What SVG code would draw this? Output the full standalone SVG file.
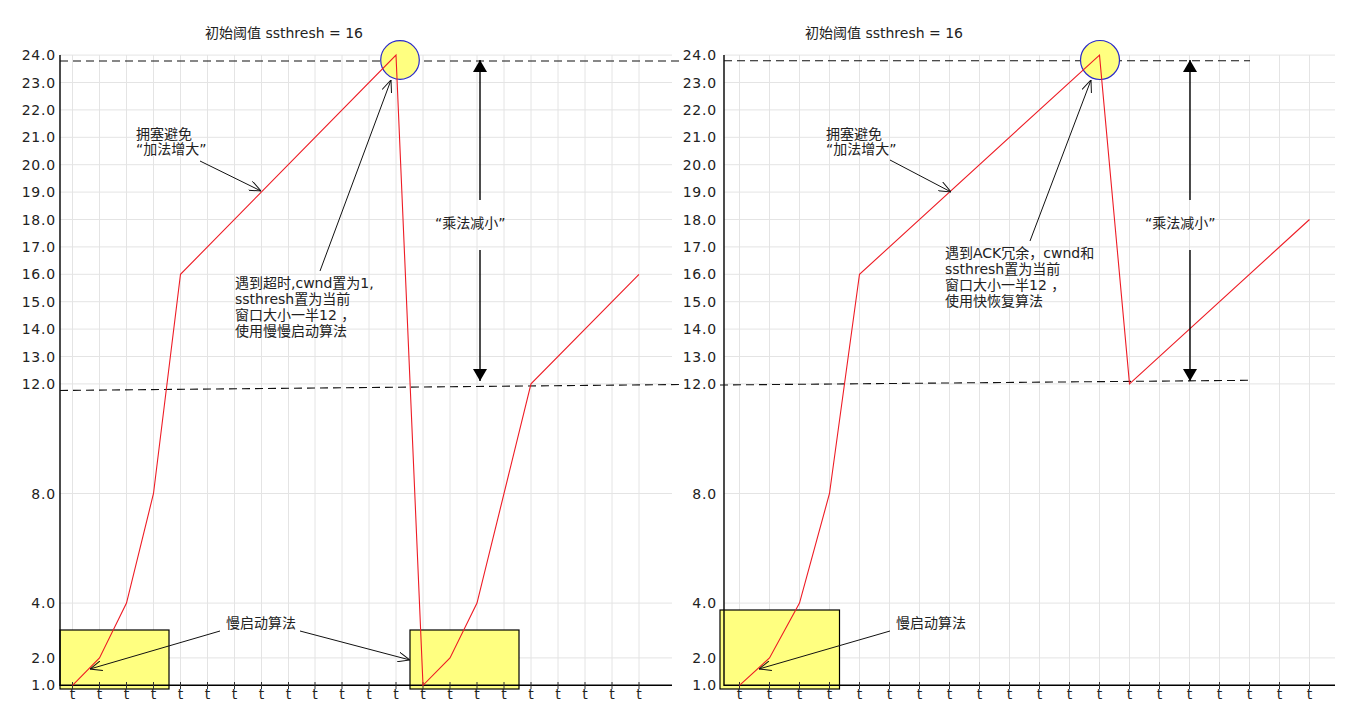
<svg xmlns="http://www.w3.org/2000/svg" width="1370" height="720" viewBox="0 0 1370 720">
<style>
text{font-family:"DejaVu Sans","Noto Sans CJK SC",sans-serif;font-size:14px;fill:#222}
.grid line{stroke:#e4e4e4;stroke-width:1}
.axis{stroke:#000;stroke-width:1.4;fill:none}
.tick line{stroke:#333;stroke-width:1}
.ylab{text-anchor:end;letter-spacing:0.8px}
.xlab{text-anchor:middle}
.data{fill:none;stroke:#ee1c25;stroke-width:1.1}
.dash{stroke:#111;stroke-width:1.1;stroke-dasharray:8,5;fill:none}
.box{fill:#ffff80;stroke:#000;stroke-width:1.2}
.peak{fill:#ffff80;stroke:#2a2ac8;stroke-width:1.2}
.ann{stroke:#111;stroke-width:1;fill:none;marker-end:url(#open)}
.big{stroke:#000;stroke-width:1.4;fill:none;marker-end:url(#solid)}
</style>
<defs>
<marker id="open" viewBox="0 0 12 10" refX="12" refY="5" markerWidth="12" markerHeight="10" markerUnits="userSpaceOnUse" orient="auto">
<path d="M0,0 L12,5 L0,10" fill="none" stroke="#111" stroke-width="1"/>
</marker>
<marker id="solid" viewBox="0 0 12 14" refX="12" refY="7" markerWidth="12" markerHeight="14" markerUnits="userSpaceOnUse" orient="auto">
<path d="M0,0 L12,7 L0,14 Z" fill="#000"/>
</marker>
</defs>
<rect width="1370" height="720" fill="#fff"/>

<!-- LEFT CHART -->
<g id="chart-left">
<g class="grid">
<line x1="72.5" y1="55" x2="72.5" y2="685"/><line x1="99.5" y1="55" x2="99.5" y2="685"/><line x1="126.5" y1="55" x2="126.5" y2="685"/><line x1="153.5" y1="55" x2="153.5" y2="685"/><line x1="180.5" y1="55" x2="180.5" y2="685"/><line x1="207.5" y1="55" x2="207.5" y2="685"/><line x1="234.5" y1="55" x2="234.5" y2="685"/><line x1="261.5" y1="55" x2="261.5" y2="685"/><line x1="288.5" y1="55" x2="288.5" y2="685"/><line x1="315" y1="55" x2="315" y2="685"/><line x1="342" y1="55" x2="342" y2="685"/><line x1="369" y1="55" x2="369" y2="685"/><line x1="396" y1="55" x2="396" y2="685"/><line x1="423" y1="55" x2="423" y2="685"/><line x1="450" y1="55" x2="450" y2="685"/><line x1="477" y1="55" x2="477" y2="685"/><line x1="504" y1="55" x2="504" y2="685"/><line x1="531" y1="55" x2="531" y2="685"/><line x1="558" y1="55" x2="558" y2="685"/><line x1="585" y1="55" x2="585" y2="685"/><line x1="612" y1="55" x2="612" y2="685"/><line x1="639" y1="55" x2="639" y2="685"/>
<line x1="60" y1="55.1" x2="672" y2="55.1"/><line x1="60" y1="82.5" x2="672" y2="82.5"/><line x1="60" y1="109.9" x2="672" y2="109.9"/><line x1="60" y1="137.3" x2="672" y2="137.3"/><line x1="60" y1="164.7" x2="672" y2="164.7"/><line x1="60" y1="192.1" x2="672" y2="192.1"/><line x1="60" y1="219.5" x2="672" y2="219.5"/><line x1="60" y1="246.9" x2="672" y2="246.9"/><line x1="60" y1="274.3" x2="672" y2="274.3"/><line x1="60" y1="301.7" x2="672" y2="301.7"/><line x1="60" y1="329.1" x2="672" y2="329.1"/><line x1="60" y1="356.5" x2="672" y2="356.5"/><line x1="60" y1="383.9" x2="672" y2="383.9"/><line x1="60" y1="493.5" x2="672" y2="493.5"/><line x1="60" y1="603.1" x2="672" y2="603.1"/><line x1="60" y1="657.9" x2="672" y2="657.9"/>
</g>
<g id="slowstart-box-left-1"><rect class="box" x="60" y="630" width="109" height="59"/></g>
<g id="slowstart-box-left-2"><rect class="box" x="410" y="630" width="109" height="59"/></g>
<path class="axis" d="M60,55 V685.3 H672"/>
<g class="tick">
<line x1="72.5" y1="682" x2="72.5" y2="689"/><line x1="99.5" y1="682" x2="99.5" y2="689"/><line x1="126.5" y1="682" x2="126.5" y2="689"/><line x1="153.5" y1="682" x2="153.5" y2="689"/><line x1="180.5" y1="682" x2="180.5" y2="689"/><line x1="207.5" y1="682" x2="207.5" y2="689"/><line x1="234.5" y1="682" x2="234.5" y2="689"/><line x1="261.5" y1="682" x2="261.5" y2="689"/><line x1="288.5" y1="682" x2="288.5" y2="689"/><line x1="315" y1="682" x2="315" y2="689"/><line x1="342" y1="682" x2="342" y2="689"/><line x1="369" y1="682" x2="369" y2="689"/><line x1="396" y1="682" x2="396" y2="689"/><line x1="423" y1="682" x2="423" y2="689"/><line x1="450" y1="682" x2="450" y2="689"/><line x1="477" y1="682" x2="477" y2="689"/><line x1="504" y1="682" x2="504" y2="689"/><line x1="531" y1="682" x2="531" y2="689"/><line x1="558" y1="682" x2="558" y2="689"/><line x1="585" y1="682" x2="585" y2="689"/><line x1="612" y1="682" x2="612" y2="689"/><line x1="639" y1="682" x2="639" y2="689"/>
</g>
<g id="ylabels-left">
<text class="ylab" x="56" y="60">24.0</text><text class="ylab" x="56" y="87.5">23.0</text><text class="ylab" x="56" y="115">22.0</text><text class="ylab" x="56" y="142.3">21.0</text><text class="ylab" x="56" y="169.7">20.0</text><text class="ylab" x="56" y="197.1">19.0</text><text class="ylab" x="56" y="224.5">18.0</text><text class="ylab" x="56" y="251.9">17.0</text><text class="ylab" x="56" y="279.3">16.0</text><text class="ylab" x="56" y="306.7">15.0</text><text class="ylab" x="56" y="334.1">14.0</text><text class="ylab" x="56" y="361.5">13.0</text><text class="ylab" x="56" y="388.9">12.0</text><text class="ylab" x="56" y="498.5">8.0</text><text class="ylab" x="56" y="608.1">4.0</text><text class="ylab" x="56" y="662.9">2.0</text><text class="ylab" x="56" y="690.3">1.0</text>
</g>
<g id="xlabels-left">
<text class="xlab" x="72.5" y="699">t</text><text class="xlab" x="99.5" y="699">t</text><text class="xlab" x="126.5" y="699">t</text><text class="xlab" x="153.5" y="699">t</text><text class="xlab" x="180.5" y="699">t</text><text class="xlab" x="207.5" y="699">t</text><text class="xlab" x="234.5" y="699">t</text><text class="xlab" x="261.5" y="699">t</text><text class="xlab" x="288.5" y="699">t</text><text class="xlab" x="315" y="699">t</text><text class="xlab" x="342" y="699">t</text><text class="xlab" x="369" y="699">t</text><text class="xlab" x="396" y="699">t</text><text class="xlab" x="423" y="699">t</text><text class="xlab" x="450" y="699">t</text><text class="xlab" x="477" y="699">t</text><text class="xlab" x="504" y="699">t</text><text class="xlab" x="531" y="699">t</text><text class="xlab" x="558" y="699">t</text><text class="xlab" x="585" y="699">t</text><text class="xlab" x="612" y="699">t</text><text class="xlab" x="639" y="699">t</text>
</g>
<g id="threshold-lines-left">
<line class="dash" x1="60" y1="61" x2="680" y2="61"/>
<line class="dash" x1="60" y1="390.5" x2="680" y2="384.5"/>
</g>
<g id="peak-left"><circle class="peak" cx="400" cy="60" r="19.3"/></g>
<g id="cwnd-left"><polyline class="data" points="72.5,685.3 99.5,657.9 126.5,603.1 153.5,493.5 180.5,274.3 396,55.1 423,685.3 450,657.9 477,603.1 531,383.9 639,274.3"/></g>
<g id="title-left"><text x="284" y="38" text-anchor="middle">初始阈值 ssthresh = 16</text></g>
<g id="label-ca-left"><text x="136" y="139">拥塞避免</text><text x="136" y="154">“加法增大”</text></g>
<g id="label-timeout-left">
<text x="235" y="288">遇到超时,cwnd置为1,</text>
<text x="235" y="304">ssthresh置为当前</text>
<text x="235" y="320">窗口大小一半12 ，</text>
<text x="235" y="336">使用慢慢启动算法</text>
</g>
<g id="label-md-left"><text x="435" y="228">“乘法减小”</text></g>
<g id="label-ss-left"><text x="226" y="628">慢启动算法</text></g>
</g>

<!-- RIGHT CHART -->
<g id="chart-right">
<g class="grid">
<line x1="739.5" y1="55" x2="739.5" y2="685"/><line x1="769.5" y1="55" x2="769.5" y2="685"/><line x1="799.5" y1="55" x2="799.5" y2="685"/><line x1="829.5" y1="55" x2="829.5" y2="685"/><line x1="859.5" y1="55" x2="859.5" y2="685"/><line x1="889.5" y1="55" x2="889.5" y2="685"/><line x1="919.5" y1="55" x2="919.5" y2="685"/><line x1="949.5" y1="55" x2="949.5" y2="685"/><line x1="979.5" y1="55" x2="979.5" y2="685"/><line x1="1009.5" y1="55" x2="1009.5" y2="685"/><line x1="1039.5" y1="55" x2="1039.5" y2="685"/><line x1="1069.5" y1="55" x2="1069.5" y2="685"/><line x1="1099.5" y1="55" x2="1099.5" y2="685"/><line x1="1129.5" y1="55" x2="1129.5" y2="685"/><line x1="1159.5" y1="55" x2="1159.5" y2="685"/><line x1="1189.5" y1="55" x2="1189.5" y2="685"/><line x1="1219.5" y1="55" x2="1219.5" y2="685"/><line x1="1249.5" y1="55" x2="1249.5" y2="685"/><line x1="1279.5" y1="55" x2="1279.5" y2="685"/><line x1="1309.5" y1="55" x2="1309.5" y2="685"/>
<line x1="724" y1="55.1" x2="1335" y2="55.1"/><line x1="724" y1="82.5" x2="1335" y2="82.5"/><line x1="724" y1="109.9" x2="1335" y2="109.9"/><line x1="724" y1="137.3" x2="1335" y2="137.3"/><line x1="724" y1="164.7" x2="1335" y2="164.7"/><line x1="724" y1="192.1" x2="1335" y2="192.1"/><line x1="724" y1="219.5" x2="1335" y2="219.5"/><line x1="724" y1="246.9" x2="1335" y2="246.9"/><line x1="724" y1="274.3" x2="1335" y2="274.3"/><line x1="724" y1="301.7" x2="1335" y2="301.7"/><line x1="724" y1="329.1" x2="1335" y2="329.1"/><line x1="724" y1="356.5" x2="1335" y2="356.5"/><line x1="724" y1="383.9" x2="1335" y2="383.9"/><line x1="724" y1="493.5" x2="1335" y2="493.5"/><line x1="724" y1="603.1" x2="1335" y2="603.1"/><line x1="724" y1="657.9" x2="1335" y2="657.9"/>
</g>
<g id="slowstart-box-right"><rect class="box" x="720" y="610" width="119.5" height="79"/></g>
<path class="axis" d="M724,55 V685.3 H1335"/>
<g class="tick">
<line x1="739.5" y1="682" x2="739.5" y2="689"/><line x1="769.5" y1="682" x2="769.5" y2="689"/><line x1="799.5" y1="682" x2="799.5" y2="689"/><line x1="829.5" y1="682" x2="829.5" y2="689"/><line x1="859.5" y1="682" x2="859.5" y2="689"/><line x1="889.5" y1="682" x2="889.5" y2="689"/><line x1="919.5" y1="682" x2="919.5" y2="689"/><line x1="949.5" y1="682" x2="949.5" y2="689"/><line x1="979.5" y1="682" x2="979.5" y2="689"/><line x1="1009.5" y1="682" x2="1009.5" y2="689"/><line x1="1039.5" y1="682" x2="1039.5" y2="689"/><line x1="1069.5" y1="682" x2="1069.5" y2="689"/><line x1="1099.5" y1="682" x2="1099.5" y2="689"/><line x1="1129.5" y1="682" x2="1129.5" y2="689"/><line x1="1159.5" y1="682" x2="1159.5" y2="689"/><line x1="1189.5" y1="682" x2="1189.5" y2="689"/><line x1="1219.5" y1="682" x2="1219.5" y2="689"/><line x1="1249.5" y1="682" x2="1249.5" y2="689"/><line x1="1279.5" y1="682" x2="1279.5" y2="689"/><line x1="1309.5" y1="682" x2="1309.5" y2="689"/>
</g>
<g id="ylabels-right">
<text class="ylab" x="717" y="60">24.0</text><text class="ylab" x="717" y="87.5">23.0</text><text class="ylab" x="717" y="115">22.0</text><text class="ylab" x="717" y="142.3">21.0</text><text class="ylab" x="717" y="169.7">20.0</text><text class="ylab" x="717" y="197.1">19.0</text><text class="ylab" x="717" y="224.5">18.0</text><text class="ylab" x="717" y="251.9">17.0</text><text class="ylab" x="717" y="279.3">16.0</text><text class="ylab" x="717" y="306.7">15.0</text><text class="ylab" x="717" y="334.1">14.0</text><text class="ylab" x="717" y="361.5">13.0</text><text class="ylab" x="717" y="388.9">12.0</text><text class="ylab" x="717" y="498.5">8.0</text><text class="ylab" x="717" y="608.1">4.0</text><text class="ylab" x="717" y="662.9">2.0</text><text class="ylab" x="717" y="690.3">1.0</text>
</g>
<g id="xlabels-right">
<text class="xlab" x="739.5" y="699">t</text><text class="xlab" x="769.5" y="699">t</text><text class="xlab" x="799.5" y="699">t</text><text class="xlab" x="829.5" y="699">t</text><text class="xlab" x="859.5" y="699">t</text><text class="xlab" x="889.5" y="699">t</text><text class="xlab" x="919.5" y="699">t</text><text class="xlab" x="949.5" y="699">t</text><text class="xlab" x="979.5" y="699">t</text><text class="xlab" x="1009.5" y="699">t</text><text class="xlab" x="1039.5" y="699">t</text><text class="xlab" x="1069.5" y="699">t</text><text class="xlab" x="1099.5" y="699">t</text><text class="xlab" x="1129.5" y="699">t</text><text class="xlab" x="1159.5" y="699">t</text><text class="xlab" x="1189.5" y="699">t</text><text class="xlab" x="1219.5" y="699">t</text><text class="xlab" x="1249.5" y="699">t</text><text class="xlab" x="1279.5" y="699">t</text><text class="xlab" x="1309.5" y="699">t</text>
</g>
<g id="threshold-lines-right">
<line class="dash" x1="724" y1="60.7" x2="1250" y2="60.7"/>
<line class="dash" x1="720" y1="385" x2="1250" y2="380.3"/>
</g>
<g id="peak-right"><circle class="peak" cx="1100" cy="60" r="19.5"/></g>
<g id="cwnd-right"><polyline class="data" points="739.5,685.3 769.5,657.9 799.5,603.1 829.5,493.5 859.5,274.3 1099.5,55.1 1129.5,383.9 1309.5,219.5"/></g>
<g id="title-right"><text x="884" y="38" text-anchor="middle">初始阈值 ssthresh = 16</text></g>
<g id="label-ca-right"><text x="826" y="139">拥塞避免</text><text x="826" y="154">“加法增大”</text></g>
<g id="label-ack-right">
<text x="945" y="258">遇到ACK冗余，cwnd和</text>
<text x="945" y="274">ssthresh置为当前</text>
<text x="945" y="290">窗口大小一半12 ，</text>
<text x="945" y="306">使用快恢复算法</text>
</g>
<g id="label-md-right"><text x="1145" y="228">“乘法减小”</text></g>
<g id="label-ss-right"><text x="896" y="628">慢启动算法</text></g>
</g>

<g id="connectors">
<line class="ann" x1="200" y1="161" x2="261" y2="191"/>
<line class="ann" x1="320" y1="271" x2="391" y2="80"/>
<line class="ann" x1="220" y1="631" x2="90" y2="669"/>
<line class="ann" x1="300" y1="631" x2="410" y2="660"/>
<line class="big" x1="480" y1="200" x2="480" y2="60"/>
<line class="big" x1="480" y1="250" x2="480" y2="381"/>
<line class="ann" x1="890" y1="160" x2="951" y2="192"/>
<line class="ann" x1="1030" y1="241" x2="1091" y2="80"/>
<line class="ann" x1="890" y1="631" x2="759" y2="669"/>
<line class="big" x1="1190" y1="200" x2="1190" y2="60"/>
<line class="big" x1="1190" y1="250" x2="1190" y2="381"/>
</g>
</svg>
